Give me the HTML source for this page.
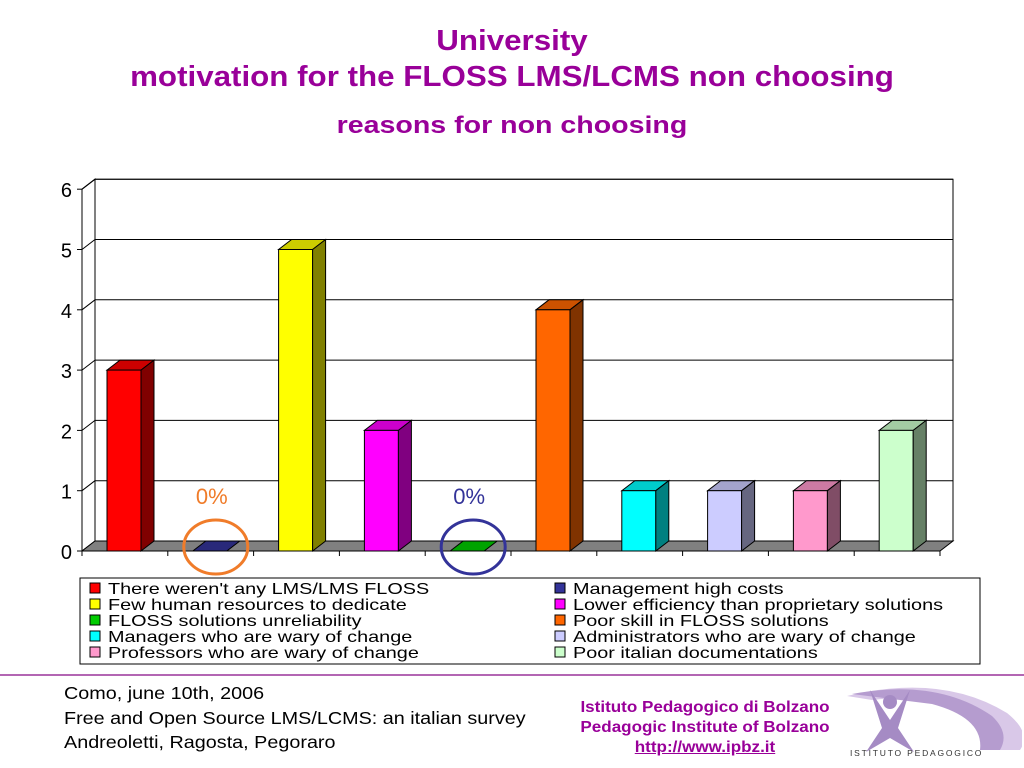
<!DOCTYPE html>
<html><head><meta charset="utf-8"><style>
body{margin:0;width:1024px;height:768px;background:#fff;font-family:"Liberation Sans",sans-serif;overflow:hidden;position:relative}
.t{position:absolute;left:0;width:1024px;text-align:center;color:#990099;font-weight:bold;transform-origin:512px 0}
</style></head><body>
<div class="t" style="top:25px;font-size:29px;transform:scaleX(1.08)">University</div>
<div class="t" style="top:61px;font-size:29px;transform:scaleX(1.08)">motivation for the FLOSS LMS/LCMS non choosing</div>
<div class="t" style="top:112px;font-size:24px;transform:scaleX(1.19)">reasons for non choosing</div>
<svg id="chart" width="1024" height="680" style="position:absolute;left:0;top:0"></svg>
<div style="position:absolute;left:0;top:674px;width:1024px;height:2px;background:#b366b3"></div>
<div style="position:absolute;left:64px;top:681px;font-size:17.5px;line-height:24.5px;color:#000;transform:scaleX(1.13);transform-origin:0 0;white-space:nowrap">Como, june 10th, 2006<br>Free and Open Source LMS/LCMS: an italian survey<br>Andreoletti, Ragosta, Pegoraro</div>
<div style="position:absolute;left:560px;top:698px;width:290px;text-align:center;font-size:15.5px;line-height:20px;font-weight:bold;color:#990099;transform:scaleX(1.1);transform-origin:145px 0">Istituto Pedagogico di Bolzano<br>Pedagogic Institute of Bolzano<br><span style="text-decoration:underline">http://www.ipbz.it</span></div>
<svg width="180" height="90" style="position:absolute;left:842px;top:678px">
<path d="M5 18 Q100 -5 165 35 Q190 55 178 72 L152 72 Q160 40 100 25 Q60 18 30 22 Z" fill="#d9c8e8"/>
<path d="M10 16 Q95 0 150 38 Q168 55 158 72 L138 72 Q142 40 90 26 Z" fill="#b59ccf"/>
<circle cx="48" cy="24" r="7" fill="#a58bc4"/>
<path d="M28 12 L48 42 L68 12 L56 50 L72 74 L48 60 L24 74 L40 50 Z" fill="#a58bc4"/>
<text x="8" y="78" font-size="8.5" letter-spacing="1.8" fill="#333" font-family="Liberation Sans">ISTITUTO PEDAGOGICO</text>
</svg>
<script>
const categories=["There weren't any LMS/LMS FLOSS","Management high costs","Few human resources to dedicate","Lower efficiency than proprietary solutions","FLOSS solutions unreliability","Poor skill in FLOSS solutions","Managers who are wary of change","Administrators who are wary of change","Professors who are wary of change","Poor italian documentations"];
const values=[3,0,5,2,0,4,1,1,1,2];
const yTicks=[0,1,2,3,4,5,6];
const colors=["#ff0000","#333399","#ffff00","#ff00ff","#00cc00","#ff6600","#00ffff","#ccccff","#ff99cc","#ccffcc"];
const sides=["#800000","#1a1a4d","#808000","#800080","#006600","#803300","#008080","#666680","#804d66","#668066"];
const tops=["#cc0000","#29297a","#cccc00","#cc00cc","#00a300","#cc5200","#00cccc","#a3a3cc","#cc7aa3","#a3cca3"];
const NS="http://www.w3.org/2000/svg",svg=document.getElementById('chart');
const X0=82,X1=940,Y0=551,UNIT=60.3,DX=13,DY=-10;
const y=v=>Y0-v*UNIT;
const slot=(X1-X0)/categories.length;
const x=i=>X0+i*slot+25;
function add(tag,attrs,parent){const e=document.createElementNS(NS,tag);for(const k in attrs)e.setAttribute(k,attrs[k]);(parent||svg).appendChild(e);return e;}
let w=add('polygon',{points:`${X0+DX},${y(6)+DY} ${X1+DX},${y(6)+DY} ${X1+DX},${Y0+DY} ${X0+DX},${Y0+DY}`,fill:'#fff',stroke:'#000','stroke-width':1});

let lw=add('polygon',{points:`${X0},${y(6)} ${X0+DX},${y(6)+DY} ${X0+DX},${Y0+DY} ${X0},${Y0}`,fill:'#fff',stroke:'#000'});

yTicks.forEach(t=>{
 if(t>0){const g=add('line',{x1:X0+DX,x2:X1+DX,y1:y(t)+DY,y2:y(t)+DY,stroke:'#000'});
 
 add('line',{x1:X0,x2:X0+DX,y1:y(t),y2:y(t)+DY,stroke:'#000'});}
 add('line',{x1:X0-5,x2:X0,y1:y(t),y2:y(t),stroke:'#000'});
 const lb=add('text',{x:X0-10,y:y(t)+8,'text-anchor':'end','font-size':20,'font-family':'Liberation Sans'});
 lb.textContent=t;
});
let fl=add('polygon',{points:`${X0},${Y0} ${X1},${Y0} ${X1+DX},${Y0+DY} ${X0+DX},${Y0+DY}`,fill:'#808080',stroke:'#000'});

add('line',{x1:X0,x2:X0,y1:y(6),y2:Y0+4,stroke:'#000'});
add('line',{x1:X0,x2:X1,y1:Y0,y2:Y0,stroke:'#000'});
for(let i=0;i<=categories.length;i++)add('line',{x1:X0+i*slot,x2:X0+i*slot,y1:Y0,y2:Y0+5,stroke:'#000'});
const BW=34;
values.forEach((v,i)=>{
 const g=add('g',{});
 const bx=x(i),by=y(v);
 add('polygon',{points:`${bx},${by} ${bx+BW},${by} ${bx+BW+DX},${by+DY} ${bx+DX},${by+DY}`,fill:tops[i],stroke:'#000'},g);
 if(v>0){add('rect',{x:bx,y:by,width:BW,height:Y0-by,fill:colors[i],stroke:'#000'},g);
 add('polygon',{points:`${bx+BW},${by} ${bx+BW+DX},${by+DY} ${bx+BW+DX},${Y0+DY} ${bx+BW},${Y0}`,fill:sides[i],stroke:'#000'},g);}
});
[[1,'#f07c2a'],[4,'#333399']].forEach(([i,c])=>{
 const cx=x(i)+BW/2+6;
 const e=add('ellipse',{cx:cx,cy:Y0-4,rx:32,ry:27,fill:'none',stroke:c,'stroke-width':3});
 
 const t=add('text',{x:cx-4,y:Y0-47,'text-anchor':'middle','font-size':22,fill:c,'font-family':'Liberation Sans'});
 t.textContent='0%';
});
const lg=add('g',{});
add('rect',{x:80,y:578,width:900,height:86,fill:'#fff',stroke:'#000'},lg);
categories.forEach((c,i)=>{
 const col=i%2,row=Math.floor(i/2);
 const lx=col?555:90,ly=583+row*16;
 const e=add('g',{},lg);
 add('rect',{x:lx,y:ly,width:10,height:10,fill:colors[i],stroke:'#000'},e);
 const t=add('text',{x:lx+18,y:ly+11,'font-size':16,'font-family':'Liberation Sans',transform:`translate(${lx+18},0) scale(1.24,1) translate(${-(lx+18)},0)`},e);t.textContent=c;
});
</script>
</body></html>
